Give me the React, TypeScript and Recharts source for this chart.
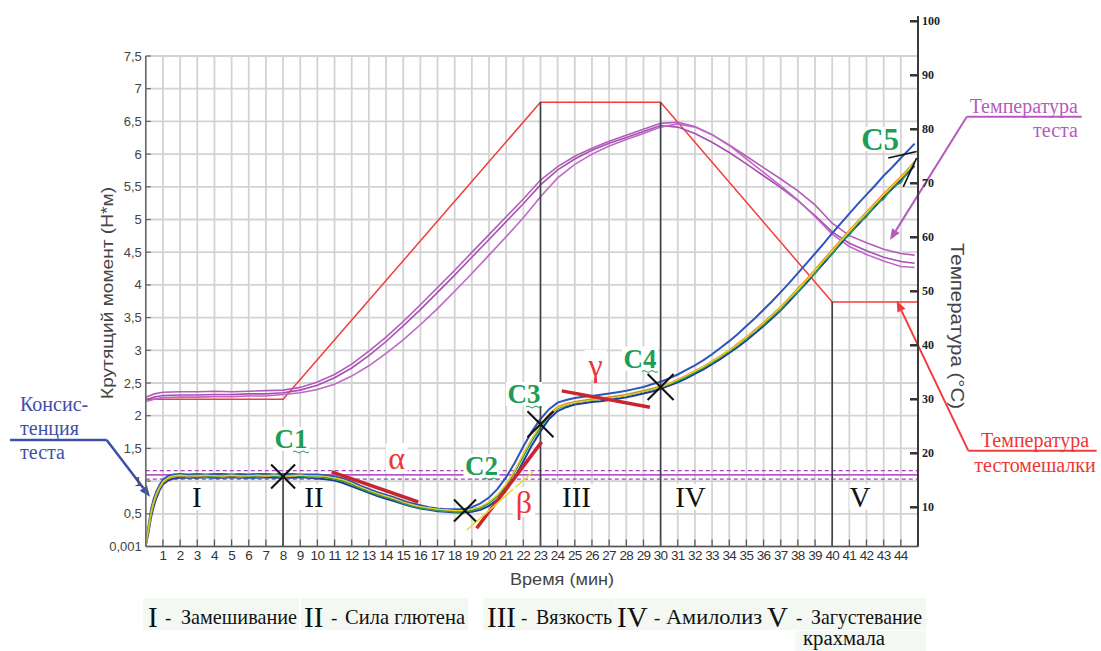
import React from 'react';
import {
  ComposedChart,
  Line,
  XAxis,
  YAxis,
  CartesianGrid,
  ReferenceLine,
  ReferenceDot,
  Customized,
} from 'recharts';

// ---------- time grids (minutes) ----------
const TORQUE_MIN = [
  0, 0.15, 0.3, 0.45, 0.6, 0.8, 1, 1.3, 1.6, 2,
  2.5, 3, 3.5, 4, 4.5, 5, 5.5, 6, 6.5, 7,
  7.5, 8, 8.5, 9, 9.5, 10, 10.5, 11, 11.5, 12,
  12.5, 13, 13.5, 14, 14.5, 15, 15.5, 16, 16.5, 17,
  17.5, 18, 18.5, 19, 19.5, 20, 20.5, 21, 21.5, 22,
  22.5, 23, 23.5, 24, 24.5, 25, 25.5, 26, 26.5, 27,
  27.5, 28, 28.5, 29, 29.5, 30, 30.5, 31, 31.5, 32,
  32.5, 33, 33.5, 34, 34.5, 35, 35.5, 36, 36.5, 37,
  37.5, 38, 38.5, 39, 39.5, 40, 40.5, 41, 41.5, 42,
  42.5, 43, 43.5, 44, 44.4, 44.8,
];

// ---------- torque, N*m (five repeat runs) ----------
const TORQUE_ORANGE = [
  0.03, 0.25, 0.5, 0.66, 0.78, 0.9, 0.98, 1.04, 1.07, 1.08,
  1.07, 1.08, 1.07, 1.08, 1.07, 1.08, 1.07, 1.08, 1.07, 1.08,
  1.08, 1.07, 1.08, 1.08, 1.07, 1.07, 1.06, 1.04, 1.01, 0.96,
  0.9, 0.85, 0.8, 0.76, 0.72, 0.67, 0.63, 0.6, 0.58, 0.56,
  0.55, 0.54, 0.54, 0.56, 0.6, 0.67, 0.78, 0.94, 1.15, 1.4,
  1.64, 1.84, 2.02, 2.13, 2.18, 2.21, 2.23, 2.25, 2.26, 2.28,
  2.3, 2.32, 2.35, 2.38, 2.41, 2.45, 2.49, 2.55, 2.61, 2.68,
  2.75, 2.83, 2.91, 3.0, 3.1, 3.2, 3.31, 3.42, 3.54, 3.66,
  3.8, 3.94, 4.08, 4.23, 4.38, 4.53, 4.68, 4.83, 4.97, 5.11,
  5.25, 5.39, 5.52, 5.65, 5.76, 5.88,
];
const TORQUE_BLUE_UPPER = [
  0.02, 0.3, 0.56, 0.72, 0.83, 0.94, 1.02, 1.08, 1.1, 1.11,
  1.1, 1.11, 1.1, 1.11, 1.11, 1.1, 1.11, 1.1, 1.11, 1.11,
  1.1, 1.11, 1.11, 1.1, 1.1, 1.1, 1.09, 1.07, 1.04, 0.99,
  0.93, 0.88, 0.83, 0.79, 0.75, 0.7, 0.66, 0.63, 0.6, 0.58,
  0.57, 0.57, 0.57, 0.6, 0.66, 0.75, 0.88, 1.06, 1.28, 1.53,
  1.76, 1.95, 2.1, 2.2, 2.24, 2.27, 2.29, 2.3, 2.32, 2.34,
  2.36, 2.38, 2.41, 2.44, 2.48, 2.52, 2.57, 2.63, 2.7, 2.77,
  2.85, 2.94, 3.04, 3.14, 3.25, 3.37, 3.49, 3.62, 3.75, 3.89,
  4.03, 4.18, 4.33, 4.48, 4.63, 4.79, 4.94, 5.09, 5.24, 5.38,
  5.52, 5.67, 5.8, 5.94, 6.05, 6.16,
];
const TORQUE_BLUE_LOWER = [
  0.02, 0.2, 0.44, 0.6, 0.73, 0.86, 0.95, 1.01, 1.04, 1.05,
  1.05, 1.05, 1.06, 1.05, 1.05, 1.06, 1.05, 1.05, 1.05, 1.06,
  1.05, 1.05, 1.05, 1.06, 1.05, 1.04, 1.03, 1.01, 0.97, 0.92,
  0.87, 0.82, 0.77, 0.73, 0.69, 0.65, 0.61, 0.58, 0.56, 0.54,
  0.53, 0.52, 0.52, 0.53, 0.56, 0.62, 0.72, 0.86, 1.06, 1.3,
  1.55, 1.76, 1.95, 2.07, 2.13, 2.17, 2.19, 2.21, 2.22, 2.24,
  2.26, 2.28, 2.31, 2.34, 2.37, 2.41, 2.46, 2.51, 2.57, 2.64,
  2.71, 2.79, 2.87, 2.96, 3.05, 3.15, 3.26, 3.37, 3.49, 3.61,
  3.75, 3.89, 4.03, 4.18, 4.33, 4.48, 4.63, 4.78, 4.92, 5.06,
  5.2, 5.34, 5.47, 5.6, 5.71, 5.82,
];
const TORQUE_GREEN = [
  0.03, 0.27, 0.52, 0.68, 0.8, 0.91, 0.99, 1.05, 1.08, 1.09,
  1.08, 1.09, 1.08, 1.07, 1.09, 1.08, 1.09, 1.07, 1.08, 1.09,
  1.07, 1.08, 1.09, 1.07, 1.08, 1.07, 1.05, 1.03, 1.0, 0.95,
  0.89, 0.84, 0.79, 0.75, 0.71, 0.66, 0.62, 0.59, 0.57, 0.55,
  0.54, 0.53, 0.53, 0.55, 0.59, 0.66, 0.77, 0.93, 1.14, 1.38,
  1.62, 1.82, 2.0, 2.11, 2.16, 2.2, 2.22, 2.24, 2.25, 2.27,
  2.29, 2.31, 2.34, 2.37, 2.4, 2.44, 2.48, 2.53, 2.6, 2.66,
  2.74, 2.81, 2.9, 2.98, 3.08, 3.17, 3.3, 3.39, 3.52, 3.62,
  3.78, 3.89, 4.06, 4.17, 4.36, 4.47, 4.66, 4.76, 4.95, 5.04,
  5.23, 5.31, 5.5, 5.56, 5.74, 5.85,
];
const TORQUE_YELLOW = [
  0.03, 0.26, 0.51, 0.67, 0.79, 0.9, 0.99, 1.05, 1.08, 1.09,
  1.08, 1.08, 1.09, 1.08, 1.08, 1.09, 1.08, 1.08, 1.09, 1.08,
  1.09, 1.08, 1.08, 1.09, 1.08, 1.08, 1.07, 1.05, 1.02, 0.97,
  0.91, 0.86, 0.81, 0.77, 0.73, 0.68, 0.64, 0.61, 0.59, 0.57,
  0.56, 0.55, 0.55, 0.57, 0.61, 0.68, 0.79, 0.95, 1.16, 1.41,
  1.65, 1.85, 2.01, 2.12, 2.17, 2.2, 2.22, 2.24, 2.25, 2.27,
  2.29, 2.31, 2.34, 2.37, 2.4, 2.44, 2.49, 2.55, 2.61, 2.68,
  2.75, 2.83, 2.91, 3.0, 3.09, 3.2, 3.3, 3.42, 3.53, 3.66,
  3.79, 3.93, 4.07, 4.22, 4.37, 4.52, 4.67, 4.82, 4.96, 5.1,
  5.24, 5.38, 5.51, 5.64, 5.75, 5.87,
];

// ---------- dough temperature, °C (three runs) ----------
const TEMP_MIN = [
  0, 0.5, 1, 2, 3, 4, 5, 6, 7, 8,
  9, 10, 11, 12, 13, 14, 15, 16, 17, 18,
  19, 20, 21, 22, 23, 24, 25, 26, 27, 28,
  29, 30, 31, 32, 33, 34, 35, 36, 37, 38,
  39, 40, 41, 42, 43, 44, 44.8,
];
const DOUGH_TEMP_A = [
  30.4, 31.0, 31.3, 31.4, 31.4, 31.5, 31.4, 31.5, 31.6, 31.7,
  32.2, 33.2, 34.6, 36.5, 38.9, 41.5, 44.4, 47.5, 50.7, 53.9,
  57.2, 60.5, 63.8, 67.1, 70.6, 73.1, 75.0, 76.5, 77.8, 78.9,
  80.0, 81.1, 81.3, 80.5, 79.0, 77.1, 75.0, 72.9, 70.8, 68.6,
  66.0, 62.6, 60.3, 59.0, 57.8, 57.0, 56.7,
];
const DOUGH_TEMP_B = [
  29.9, 30.4, 30.7, 30.8, 30.8, 30.9, 30.9, 31.0, 31.0, 31.2,
  31.7, 32.6, 34.0, 35.8, 38.1, 40.7, 43.6, 46.6, 49.8, 53.0,
  56.3, 59.6, 62.9, 66.2, 69.7, 72.5, 74.5, 76.1, 77.4, 78.5,
  79.6, 80.7, 80.4, 79.2, 77.6, 75.7, 73.6, 71.4, 69.2, 66.8,
  64.0, 61.0, 58.9, 57.5, 56.3, 55.5, 55.2,
];
const DOUGH_TEMP_C = [
  29.6, 30.0, 30.3, 30.4, 30.4, 30.5, 30.5, 30.6, 30.6, 30.9,
  31.2, 31.8, 32.8, 34.3, 36.2, 38.5, 41.0, 43.8, 46.8, 50.0,
  53.3, 56.7, 60.1, 63.6, 67.5, 71.0, 73.5, 75.4, 76.9, 78.1,
  79.2, 80.4, 81.0, 80.4, 79.0, 77.0, 74.5, 72.0, 69.5, 66.9,
  63.8, 60.6, 58.3, 56.8, 55.6, 54.6, 54.4,
];

// ---------- mixer (bowl) temperature profile, °C ----------
const MIXER_MIN = [0, 8, 23, 30, 40, 45];
const MIXER_TEMP = [30, 30, 85, 85, 48, 48];

// ---------- axes ----------
const X_TICKS = [
  1, 2, 3, 4, 5, 6, 7, 8, 9, 10, 11, 12, 13, 14, 15, 16, 17, 18, 19, 20, 21, 22,
  23, 24, 25, 26, 27, 28, 29, 30, 31, 32, 33, 34, 35, 36, 37, 38, 39, 40, 41, 42, 43, 44,
];
const TORQUE_TICKS = [0, 0.5, 1, 1.5, 2, 2.5, 3, 3.5, 4, 4.5, 5, 5.5, 6, 6.5, 7, 7.5];
const TEMP_TICKS = [10, 20, 30, 40, 50, 60, 70, 80, 90, 100];
const TEMP_DOMAIN = [2.74, 93.57];

// target consistency band (N*m)
const BAND_LOW = 1.03;
const BAND_MID = 1.095;
const BAND_HIGH = 1.16;

// characteristic points C1..C4
const C_POINTS = [
  { name: 'C1', t: 8, v: 1.07, size: 12 },
  { name: 'C2', t: 18.6, v: 0.55, size: 11 },
  { name: 'C3', t: 23, v: 1.87, size: 13 },
  { name: 'C4', t: 30, v: 2.44, size: 13 },
];
// label anchors for the point names
const C_LABELS = [
  { name: 'C1', t: 8.46, v: 1.644 },
  { name: 'C2', t: 19.56, v: 1.231 },
  { name: 'C3', t: 22.04, v: 2.332 },
  { name: 'C4', t: 28.8, v: 2.875 },
  { name: 'C5', t: 42.79, v: 6.231 },
];
// slope tangents
const TANGENTS = [
  { name: 'α', from: [10.83, 1.14], to: [15.88, 0.68], label: [14.62, 1.353] },
  { name: 'β', from: [19.28, 0.28], to: [23.07, 1.6], label: [22.04, 0.68] },
  { name: 'γ', from: [24.24, 2.38], to: [29.38, 2.13], label: [26.21, 2.775] },
];
const YELLOW_TANGENT = [[18.7, 0.25], [22.56, 1.14]];
const C5_LINES = [
  [[43.27, 5.94], [44.92, 6.04]],
  [[44.14, 5.5], [44.92, 5.94]],
];
// phase numerals
const PHASES = [
  { name: 'I', t: 2.98 },
  { name: 'II', t: 9.8 },
  { name: 'III', t: 25.1 },
  { name: 'IV', t: 31.74 },
  { name: 'V', t: 41.62 },
];
const PHASE_LEVEL = 0.757;
// phase boundaries: C1 at 8 min, then 23, 30 and 40 min
const STAGE_LINES = [
  { t: 8, axis: 'left', top: 1.07 },
  { t: 23, axis: 'right', top: 85 },
  { t: 30, axis: 'right', top: 85 },
  { t: 40, axis: 'right', top: 48 },
];

const LEGEND = [
  { num: 'I', text: 'Замешивание' },
  { num: 'II', text: 'Сила глютена' },
  { num: 'III', text: 'Вязкость' },
  { num: 'IV', text: 'Амилолиз' },
  { num: 'V', text: 'Загустевание' },
];

const rows = (ts: number[], vs: number[]) => ts.map((t, i) => ({ t, v: vs[i] }));

const SANS = 'Liberation Sans, Arial, sans-serif';
const SERIF = 'Liberation Serif, Times New Roman, serif';

const GREEN_TXT = '#1f9d55';
const TAN_RED = '#c8262c';
const TXT_RED = '#ee3535';
const PURPLE = '#b45cbc';
const MIXER_RED = '#f23c3c';
const NOTE_BLUE = '#3d4fa6';

// ---------- tick renderers ----------
const XTick = (p: any) => {
  const { x, y, payload } = p;
  return (
    <g>
      <line x1={x} x2={x} y1={y - 3} y2={y - 10} stroke="#555" strokeWidth={1.2} />
      <text x={x} y={y + 10} textAnchor="middle" fontSize={13.5} fill="#333" fontFamily={SANS} letterSpacing={-0.7}>
        {payload.value}
      </text>
    </g>
  );
};

const LeftTick = (p: any) => {
  const { x, y, payload } = p;
  const label = payload.value === 0 ? '0,001' : String(payload.value).replace('.', ',');
  return (
    <g>
      <line x1={x + 4} x2={x + 9} y1={y} y2={y} stroke="#666" strokeWidth={1.2} />
      <text x={x} y={y} dy="0.35em" textAnchor="end" fontSize={13} fill="#444" fontFamily={SANS}>
        {label}
      </text>
    </g>
  );
};

const RightTick = (p: any) => {
  const { x, y, payload } = p;
  return (
    <g>
      <line x1={x - 11} x2={x - 3} y1={y} y2={y} stroke="#333" strokeWidth={2.5} />
      <text x={x + 1} y={y} dy="0.35em" fontSize={12} fontWeight="bold" fill="#222" fontFamily={SERIF}>
        {payload.value}
      </text>
    </g>
  );
};

// ---------- shapes ----------
const crossShape = (size: number) => (p: any) => (
  <g stroke="#111" strokeWidth={2}>
    <line x1={p.cx - size} y1={p.cy - size} x2={p.cx + size} y2={p.cy + size} />
    <line x1={p.cx - size} y1={p.cy + size} x2={p.cx + size} y2={p.cy - size} />
  </g>
);

const boxedText = (
  text: string,
  opts: { size: number; color: string; weight?: string; boxW: number; boxH: number; squiggle?: boolean },
) => (p: any) => (
  <g>
    <rect x={p.cx - opts.boxW / 2} y={p.cy - opts.boxH / 2} width={opts.boxW} height={opts.boxH} fill="#fff" />
    <text
      x={p.cx}
      y={p.cy}
      dy="0.35em"
      textAnchor="middle"
      fontSize={opts.size}
      fontWeight={opts.weight || 'normal'}
      fill={opts.color}
      fontFamily={SERIF}
    >
      {text}
    </text>
    {opts.squiggle ? (
      <path
        d={`M${p.cx + 2} ${p.cy + 13} q2 -2 4 0 t4 0 t4 0 t4 0`}
        fill="none"
        stroke={opts.color}
        strokeWidth={1}
      />
    ) : null}
  </g>
);

const noteText = (lines: string[], color: string, anchor: string, size: number, step: number) => (p: any) => (
  <text fontSize={size} fill={color} fontFamily={SERIF} textAnchor={anchor}>
    {lines.map((ln, i) => (
      <tspan key={i} x={p.cx} y={p.cy + i * step} dy="0.35em">
        {ln}
      </tspan>
    ))}
  </text>
);

const arrowShape = (color: string, width: number, head: boolean) => (p: any) => {
  const { x1, y1, x2, y2 } = p;
  const ang = Math.atan2(y2 - y1, x2 - x1);
  const L = 11;
  const Wd = 4.5;
  const bx = x2 - L * Math.cos(ang);
  const by = y2 - L * Math.sin(ang);
  const px = -Math.sin(ang) * Wd;
  const py = Math.cos(ang) * Wd;
  return (
    <g>
      <line x1={x1} y1={y1} x2={head ? bx : x2} y2={head ? by : y2} stroke={color} strokeWidth={width} />
      {head ? <polygon points={`${x2},${y2} ${bx + px},${by + py} ${bx - px},${by - py}`} fill={color} /> : null}
    </g>
  );
};

// ---------- bottom legend of phases ----------
const LEGEND_LAYOUT = [
  { numX: 148, dashX: 165, wordX: 181, wordW: 116, boxX: 143, boxW: 156 },
  { numX: 304, dashX: 331, wordX: 345, wordW: 120, boxX: 301, boxW: 167 },
  { numX: 487, dashX: 521, wordX: 536, wordW: 76, boxX: 483, boxW: 131 },
  { numX: 617, dashX: 654, wordX: 666, wordW: 96, boxX: 615, boxW: 150 },
  { numX: 767, dashX: 796, wordX: 811, wordW: 111, boxX: 764, boxW: 162 },
];

const PhaseLegend = () => (
  <g fontFamily={SERIF} fill="#111">
    {LEGEND.map((item, i) => {
      const l = LEGEND_LAYOUT[i];
      return (
        <g key={item.num}>
          <rect x={l.boxX} y={598} width={l.boxW} height={32} fill="#f3f8f3" />
          <text x={l.numX} y={627} fontSize={29}>
            {item.num}
          </text>
          <text x={l.dashX} y={624} fontSize={19}>
            -
          </text>
          <text x={l.wordX} y={624} fontSize={21} textLength={l.wordW} lengthAdjust="spacingAndGlyphs">
            {item.text}
          </text>
        </g>
      );
    })}
    <rect x={795} y={631} width={131} height={20} fill="#f3f8f3" />
    <text x={803} y={645} fontSize={20} textLength={82} lengthAdjust="spacingAndGlyphs">
      крахмала
    </text>
  </g>
);

const AxisTitles = () => (
  <g fontFamily={SANS} fill="#444">
    <text
      x={107}
      y={293}
      fontSize={16}
      textAnchor="middle"
      transform="rotate(-90 107 293)"
      dy="0.35em"
      textLength={212}
      lengthAdjust="spacingAndGlyphs"
    >
      Крутящий момент (Н*м)
    </text>
    <text
      x={957}
      y={326}
      fontSize={18}
      textAnchor="middle"
      transform="rotate(90 957 326)"
      dy="0.35em"
      textLength={166}
      lengthAdjust="spacingAndGlyphs"
    >
      Температура (°C)
    </text>
    <text x={562} y={579} fontSize={16} textAnchor="middle" dy="0.35em" textLength={104} lengthAdjust="spacingAndGlyphs">
      Время (мин)
    </text>
  </g>
);

export default function App() {
  const orange = rows(TORQUE_MIN, TORQUE_ORANGE);
  const blueU = rows(TORQUE_MIN, TORQUE_BLUE_UPPER);
  const blueL = rows(TORQUE_MIN, TORQUE_BLUE_LOWER);
  const green = rows(TORQUE_MIN, TORQUE_GREEN);
  const yellow = rows(TORQUE_MIN, TORQUE_YELLOW);
  const tA = rows(TEMP_MIN, DOUGH_TEMP_A);
  const tB = rows(TEMP_MIN, DOUGH_TEMP_B);
  const tC = rows(TEMP_MIN, DOUGH_TEMP_C);
  const mixer = rows(MIXER_MIN, MIXER_TEMP);

  return (
    <div style={{ width: 1101, height: 651, position: 'relative', background: '#fff' }}>
      <style>{'body{margin:0;overflow:hidden;background:#fff}'}</style>
      <ComposedChart width={1101} height={651} margin={{ top: 56, right: 123, bottom: 74.5, left: 95.8 }}>
        <CartesianGrid yAxisId="left" stroke="#d3d3d3" strokeWidth={1.8} />
        <XAxis
          type="number"
          dataKey="t"
          domain={[0, 45]}
          ticks={X_TICKS}
          interval={0}
          tickSize={0}
          tickMargin={3}
          tick={XTick}
          axisLine={{ stroke: '#555', strokeWidth: 1.5 }}
          height={30}
          allowDataOverflow
        />
        <YAxis
          yAxisId="left"
          type="number"
          domain={[0, 7.5]}
          ticks={TORQUE_TICKS}
          interval={0}
          tickSize={0}
          tickMargin={4}
          tick={LeftTick}
          axisLine={{ stroke: '#666', strokeWidth: 1.5 }}
          width={50}
          allowDataOverflow
        />
        <YAxis
          yAxisId="right"
          orientation="right"
          type="number"
          domain={TEMP_DOMAIN}
          ticks={TEMP_TICKS}
          interval={0}
          tickSize={0}
          tickMargin={3}
          tick={RightTick}
          axisLine={{ stroke: '#3a3a3a', strokeWidth: 2 }}
          width={60}
          allowDataOverflow
        />

        {/* target consistency band */}
        <ReferenceLine yAxisId="left" y={BAND_HIGH} stroke="#a046b8" strokeWidth={1.4} strokeDasharray="4 3" />
        <ReferenceLine yAxisId="left" y={BAND_MID} stroke="#b45cc4" strokeWidth={1.6} />
        <ReferenceLine yAxisId="left" y={BAND_LOW} stroke="#a046b8" strokeWidth={1.4} strokeDasharray="4 3" />

        {/* temperatures */}
        <Line yAxisId="right" data={mixer} dataKey="v" stroke={MIXER_RED} strokeWidth={1.5} dot={false} isAnimationActive={false} />
        <Line yAxisId="right" data={tA} dataKey="v" stroke={PURPLE} strokeWidth={1.6} dot={false} isAnimationActive={false} />
        <Line yAxisId="right" data={tB} dataKey="v" stroke="#a84fb2" strokeWidth={1.6} dot={false} isAnimationActive={false} />
        <Line yAxisId="right" data={tC} dataKey="v" stroke="#bf68c6" strokeWidth={1.6} dot={false} isAnimationActive={false} />

        {/* torque runs */}
        <Line yAxisId="left" data={blueU} dataKey="v" stroke="#2f55bb" strokeWidth={2} dot={false} isAnimationActive={false} />
        <Line yAxisId="left" data={blueL} dataKey="v" stroke="#1f3c9e" strokeWidth={2} dot={false} isAnimationActive={false} />
        <Line yAxisId="left" data={orange} dataKey="v" stroke="#f28a25" strokeWidth={2.2} dot={false} isAnimationActive={false} />
        <Line yAxisId="left" data={green} dataKey="v" stroke="#2ca048" strokeWidth={1.6} dot={false} isAnimationActive={false} />
        <Line yAxisId="left" data={yellow} dataKey="v" stroke="#e6d62a" strokeWidth={1.2} dot={false} isAnimationActive={false} />

        {/* phase boundaries */}
        {STAGE_LINES.map((s) => (
          <ReferenceLine
            key={`stage-${s.t}`}
            yAxisId={s.axis}
            segment={[
              { x: s.t, y: s.top },
              { x: s.t, y: s.axis === 'left' ? 0 : TEMP_DOMAIN[0] },
            ]}
            stroke="#3b4146"
            strokeWidth={1.6}
            ifOverflow="visible"
          />
        ))}

        {/* right axis continues above the plot */}
        <ReferenceLine
          yAxisId="right"
          segment={[
            { x: 45, y: TEMP_DOMAIN[1] },
            { x: 45, y: 101 },
          ]}
          stroke="#3a3a3a"
          strokeWidth={2}
          ifOverflow="visible"
        />

        {/* tangents */}
        {TANGENTS.map((g) => (
          <ReferenceLine
            key={`tan-${g.name}`}
            yAxisId="left"
            segment={[
              { x: g.from[0], y: g.from[1] },
              { x: g.to[0], y: g.to[1] },
            ]}
            stroke={TAN_RED}
            strokeWidth={3.5}
            ifOverflow="visible"
          />
        ))}
        <ReferenceLine
          yAxisId="left"
          segment={[
            { x: YELLOW_TANGENT[0][0], y: YELLOW_TANGENT[0][1] },
            { x: YELLOW_TANGENT[1][0], y: YELLOW_TANGENT[1][1] },
          ]}
          stroke="#e9dc2e"
          strokeWidth={1.5}
          ifOverflow="visible"
        />
        {C5_LINES.map((seg, i) => (
          <ReferenceLine
            key={`c5-${i}`}
            yAxisId="left"
            segment={[
              { x: seg[0][0], y: seg[0][1] },
              { x: seg[1][0], y: seg[1][1] },
            ]}
            stroke="#111"
            strokeWidth={1.6}
            ifOverflow="visible"
          />
        ))}

        {/* characteristic points */}
        {C_POINTS.map((c) => (
          <ReferenceDot
            key={`x-${c.name}`}
            yAxisId="left"
            x={c.t}
            y={c.v}
            r={0}
            ifOverflow="visible"
            shape={crossShape(c.size)}
          />
        ))}
        {C_LABELS.map((c) => (
          <ReferenceDot
            key={`lbl-${c.name}`}
            yAxisId="left"
            x={c.t}
            y={c.v}
            r={0}
            ifOverflow="visible"
            shape={boxedText(c.name, {
              size: c.name === 'C5' ? 31 : 27,
              color: GREEN_TXT,
              weight: 'bold',
              boxW: c.name === 'C5' ? 40 : 36,
              boxH: 24,
              squiggle: c.name !== 'C5',
            })}
          />
        ))}
        {TANGENTS.map((g) => (
          <ReferenceDot
            key={`glbl-${g.name}`}
            yAxisId="left"
            x={g.label[0]}
            y={g.label[1]}
            r={0}
            ifOverflow="visible"
            shape={boxedText(g.name, { size: 32, color: TXT_RED, boxW: 22, boxH: 30 })}
          />
        ))}
        {PHASES.map((ph) => (
          <ReferenceDot
            key={`ph-${ph.name}`}
            yAxisId="left"
            x={ph.t}
            y={PHASE_LEVEL}
            r={0}
            ifOverflow="visible"
            shape={boxedText(ph.name, { size: 29, color: '#111', boxW: ph.name.length * 11 + 10, boxH: 26 })}
          />
        ))}

        {/* callouts */}
        <ReferenceLine
          yAxisId="left"
          segment={[
            { x: -7.91, y: 1.628 },
            { x: -2.28, y: 1.628 },
          ]}
          ifOverflow="visible"
          shape={arrowShape(NOTE_BLUE, 2.5, false)}
        />
        <ReferenceLine
          yAxisId="left"
          segment={[
            { x: -2.28, y: 1.628 },
            { x: 0.245, y: 0.761 },
          ]}
          ifOverflow="visible"
          shape={arrowShape(NOTE_BLUE, 2.5, true)}
        />
        <ReferenceDot
          yAxisId="left"
          x={-7.33}
          y={2.18}
          r={0}
          ifOverflow="visible"
          shape={noteText(['Консис-', 'тенция', 'теста'], NOTE_BLUE, 'start', 20, 24)}
        />

        <ReferenceLine
          yAxisId="left"
          segment={[
            { x: 54.54, y: 6.572 },
            { x: 47.84, y: 6.572 },
          ]}
          ifOverflow="visible"
          shape={arrowShape(PURPLE, 2, false)}
        />
        <ReferenceLine
          yAxisId="left"
          segment={[
            { x: 47.84, y: 6.572 },
            { x: 43.37, y: 4.687 },
          ]}
          ifOverflow="visible"
          shape={arrowShape(PURPLE, 2, true)}
        />
        <ReferenceDot
          yAxisId="left"
          x={54.32}
          y={6.735}
          r={0}
          ifOverflow="visible"
          shape={noteText(['Температура', 'теста'], PURPLE, 'end', 20, 24)}
        />

        <ReferenceLine
          yAxisId="left"
          segment={[
            { x: 55.41, y: 1.465 },
            { x: 47.93, y: 1.465 },
          ]}
          ifOverflow="visible"
          shape={arrowShape(MIXER_RED, 2, false)}
        />
        <ReferenceLine
          yAxisId="left"
          segment={[
            { x: 47.93, y: 1.465 },
            { x: 43.76, y: 3.758 },
          ]}
          ifOverflow="visible"
          shape={arrowShape(MIXER_RED, 2, true)}
        />
        <ReferenceDot
          yAxisId="left"
          x={51.82}
          y={1.628}
          r={0}
          ifOverflow="visible"
          shape={noteText(['Температура', 'тестомешалки'], TXT_RED, 'middle', 20, 25)}
        />

        <Customized component={AxisTitles} />
        <Customized component={PhaseLegend} />
      </ComposedChart>
    </div>
  );
}
